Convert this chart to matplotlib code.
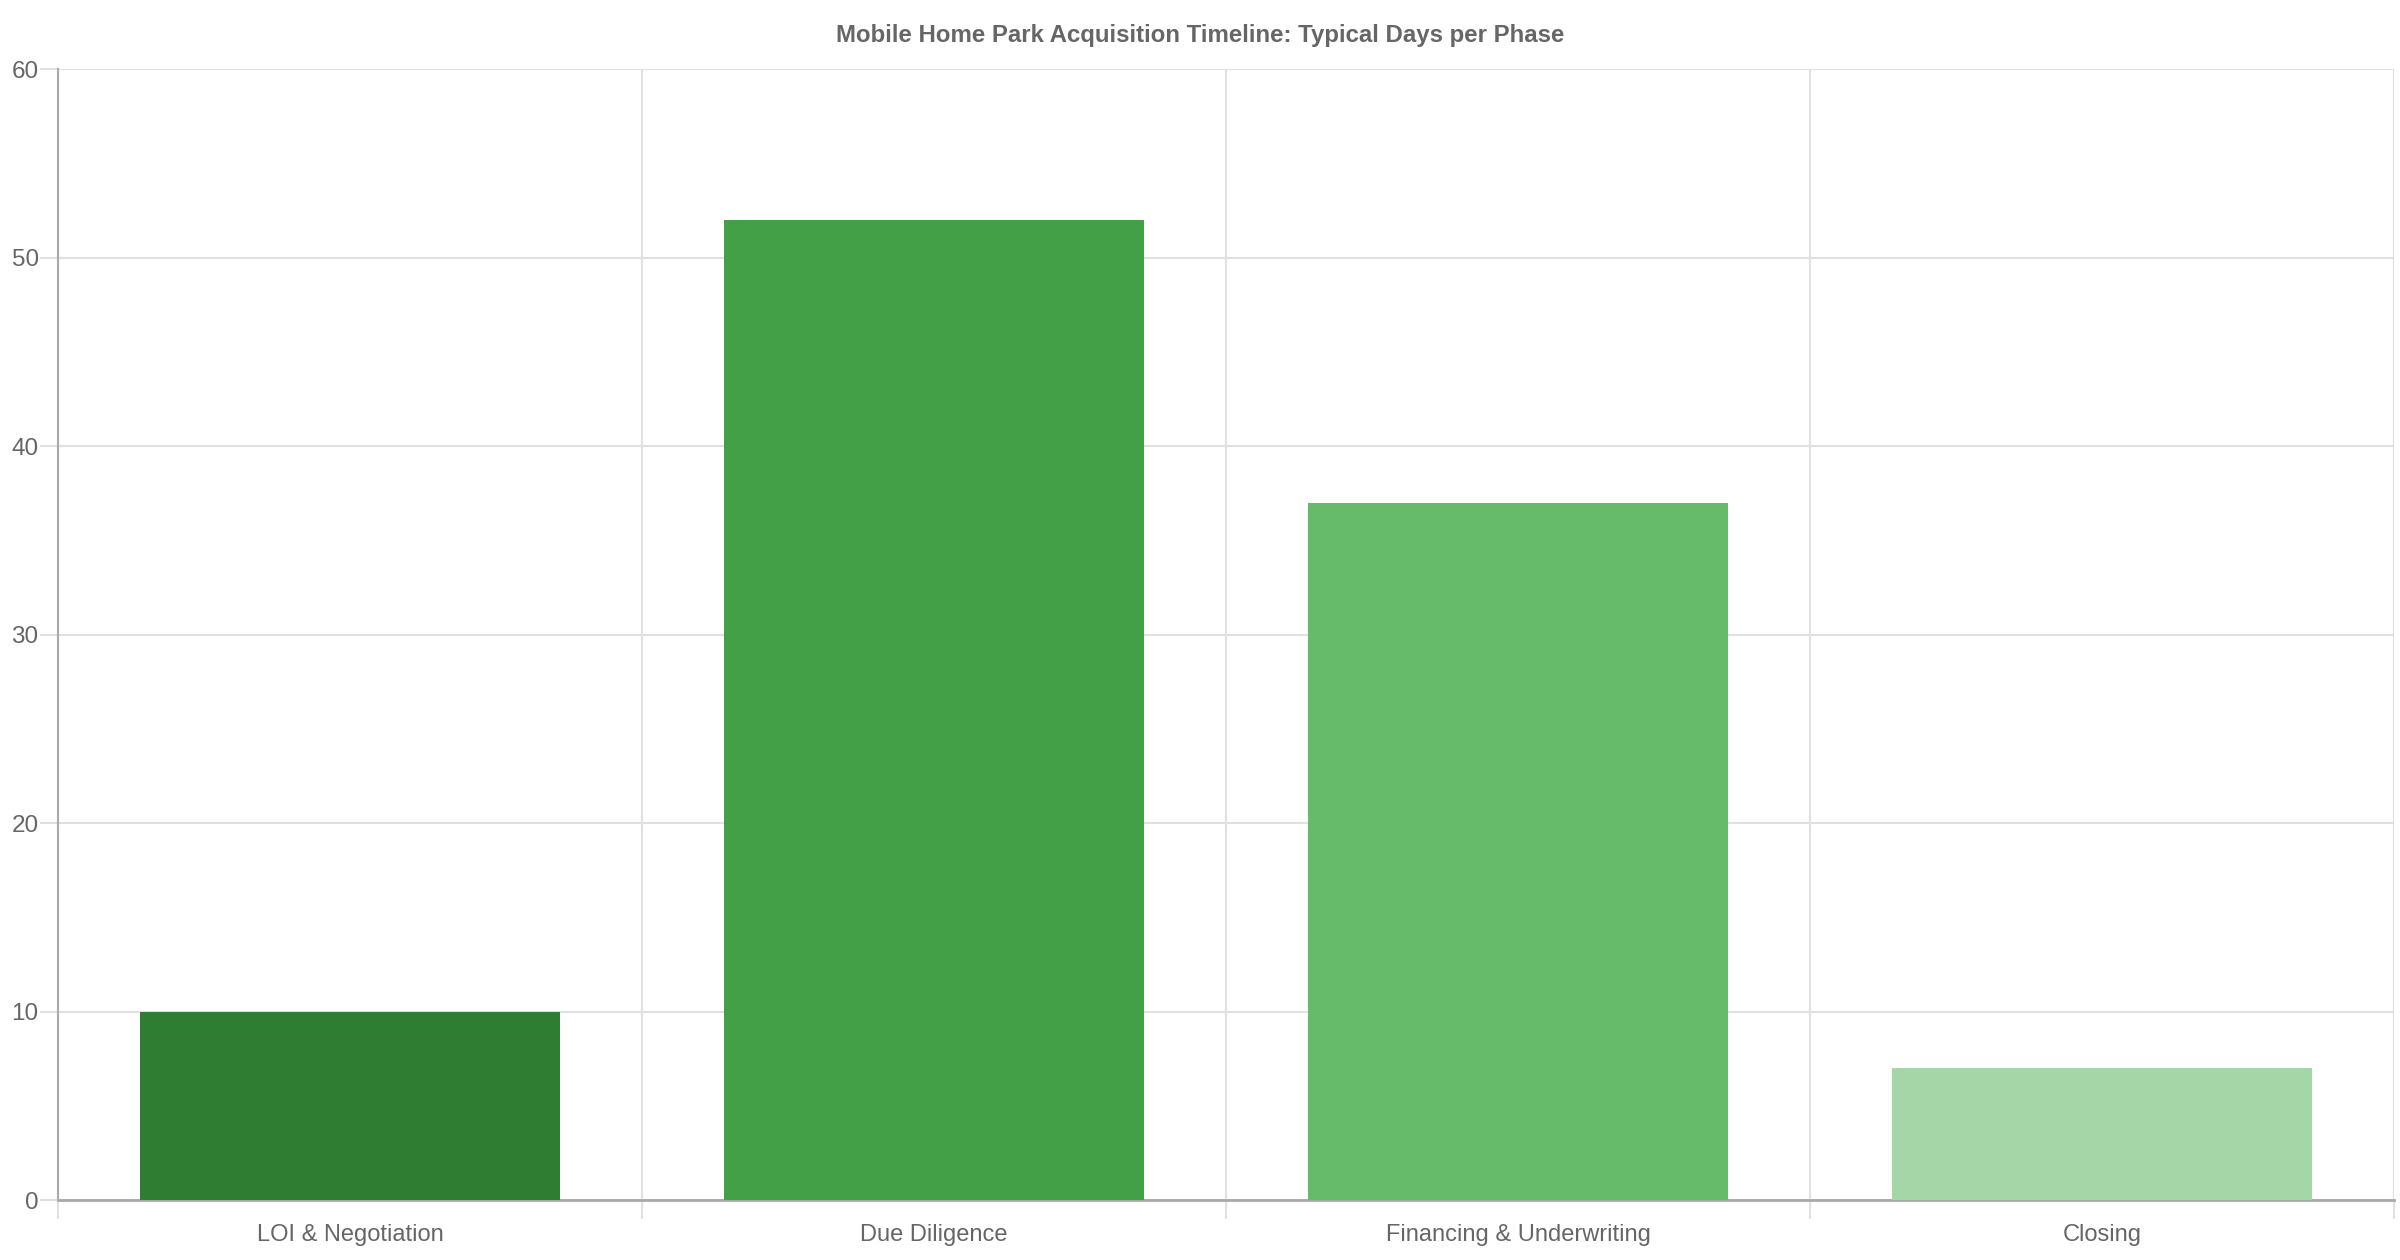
import numpy as np
import matplotlib.pyplot as plt

plt.rcParams['font.family'] = ['Liberation Sans', 'DejaVu Sans']

phases = ["LOI & Negotiation", "Due Diligence", "Financing & Underwriting", "Closing"]
days = [10, 52, 37, 7]
colors = ["#2e7d32", "#43a047", "#66bb6a", "#a5d6a7"]
y_ticks = [0, 10, 20, 30, 40, 50, 60]

grey = "#666666"
grid_c = "#e0e0e0"

fig = plt.figure(figsize=(24, 12.6), dpi=100)
ax = fig.add_axes([0.0242, 0.0476, 0.9733, 0.8976])

x = np.arange(len(phases))
ax.bar(x, days, width=0.72, color=colors, zorder=3)

ax.set_xlim(-0.5, len(phases) - 0.5)
ax.set_ylim(0, 60)
ax.set_yticks(y_ticks)
ax.set_xticks(x)
ax.set_xticklabels(phases)
ax.set_xticks(np.arange(len(phases) + 1) - 0.5, minor=True)

ax.tick_params(axis='x', which='major', length=0, labelsize=17, labelcolor=grey, pad=17.5)
ax.tick_params(axis='x', which='minor', length=13.7, color=grid_c, width=1.5)
ax.tick_params(axis='y', length=13, color=grid_c, width=1.5, labelsize=17.5, labelcolor=grey, pad=1)

ax.grid(axis='y', color=grid_c, linewidth=1.5, zorder=0)
ax.grid(axis='x', which='minor', color=grid_c, linewidth=1.5, zorder=0)

for s in ['top', 'right']:
    ax.spines[s].set_visible(False)
ax.spines['left'].set_color("#aaaaaa")
ax.spines['bottom'].set_color("#aaaaaa")
ax.spines['left'].set_linewidth(1.5)
ax.spines['bottom'].set_linewidth(2)

fig.text(0.5, 0.972, "Mobile Home Park Acquisition Timeline: Typical Days per Phase",
         ha='center', va='center', fontsize=17.3, fontweight='bold', color=grey)

fig.savefig("out.png", dpi=100, facecolor='white')
